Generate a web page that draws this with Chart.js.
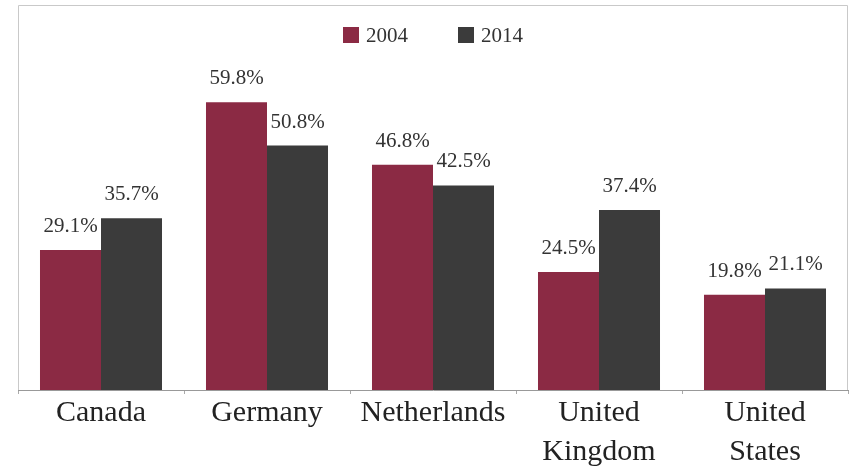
<!DOCTYPE html>
<html>
<head>
<meta charset="utf-8">
<script src="https://cdn.jsdelivr.net/npm/chart.js@4/dist/chart.umd.min.js"></script>
<style>
  html, body { margin: 0; padding: 0; background: #fff; overflow: hidden; }
  #wrap { width: 850px; height: 472px; }
</style>
</head>
<body>
<div id="wrap"><canvas id="chart"></canvas></div>
<script>
const countries = ['Canada', 'Germany', 'Netherlands', ['United', 'Kingdom'], ['United', 'States']];
const years = ['2004', '2014'];
const share2004 = [29.1, 59.8, 46.8, 24.5, 19.8];
const share2014 = [35.7, 50.8, 42.5, 37.4, 21.1];
const colors = ['#8b2a44', '#3b3b3b'];

const serif = "'Liberation Serif', 'DejaVu Serif', serif";

// frame around the plot area + legend drawn inside it
const framePlugin = {
    id: 'frame',
    beforeDatasetsDraw(chart) {
        const { ctx, chartArea: a } = chart;
        ctx.save();
        ctx.strokeStyle = '#c9c9c9';
        ctx.lineWidth = 1;
        ctx.beginPath();
        ctx.moveTo(a.left + 0.5, a.bottom);
        ctx.lineTo(a.left + 0.5, a.top + 0.5);
        ctx.lineTo(a.right - 0.5, a.top + 0.5);
        ctx.lineTo(a.right - 0.5, a.bottom);
        ctx.stroke();

        // legend
        ctx.font = '21px ' + serif;
        ctx.textBaseline = 'middle';
        const box = 16, gap = 7, space = 50;
        const items = chart.data.datasets.map(d => ({ label: d.label, color: d.backgroundColor, w: ctx.measureText(d.label).width }));
        let total = 0;
        items.forEach((it, i) => { total += box + gap + it.w + (i < items.length - 1 ? space : 0); });
        let x = (a.left + a.right) / 2 - total / 2;
        const y = a.top + 30;
        items.forEach(it => {
            ctx.fillStyle = it.color;
            ctx.fillRect(x, y - box / 2, box, box);
            x += box + gap;
            ctx.fillStyle = '#333';
            ctx.fillText(it.label, x, y + 1);
            x += it.w + space;
        });
        ctx.restore();
    },
    afterDatasetsDraw(chart) {
        const { ctx } = chart;
        ctx.save();
        ctx.font = '21px ' + serif;
        ctx.fillStyle = '#333';
        ctx.textAlign = 'center';
        ctx.textBaseline = 'alphabetic';
        chart.data.datasets.forEach((ds, i) => {
            chart.getDatasetMeta(i).data.forEach((bar, j) => {
                ctx.fillText(ds.data[j].toFixed(1) + '%', bar.x, bar.y - 18);
            });
        });
        ctx.restore();
    }
};

new Chart(document.getElementById('chart'), {
    type: 'bar',
    data: {
        labels: countries,
        datasets: [
            { label: years[0], data: share2004, backgroundColor: colors[0] },
            { label: years[1], data: share2014, backgroundColor: colors[1] }
        ]
    },
    options: {
        responsive: true,
        maintainAspectRatio: false,
        animation: false,
        layout: { padding: { left: 18, right: 2, top: 5, bottom: 0 } },
        datasets: { bar: { categoryPercentage: 0.735, barPercentage: 1.0 } },
        plugins: {
            legend: { display: false },
            tooltip: { enabled: false }
        },
        scales: {
            y: {
                display: false,
                min: 0,
                max: 80
            },
            x: {
                grid: {
                    display: true,
                    drawOnChartArea: false,
                    drawTicks: true,
                    tickLength: 4,
                    offset: true,
                    color: '#aaa'
                },
                border: { display: true, color: '#999', width: 1 },
                ticks: {
                    color: '#222',
                    padding: 0,
                    maxRotation: 0,
                    autoSkip: false,
                    font: { family: serif, size: 30, lineHeight: 1.3 }
                }
            }
        }
    },
    plugins: [framePlugin]
});
</script>
</body>
</html>
